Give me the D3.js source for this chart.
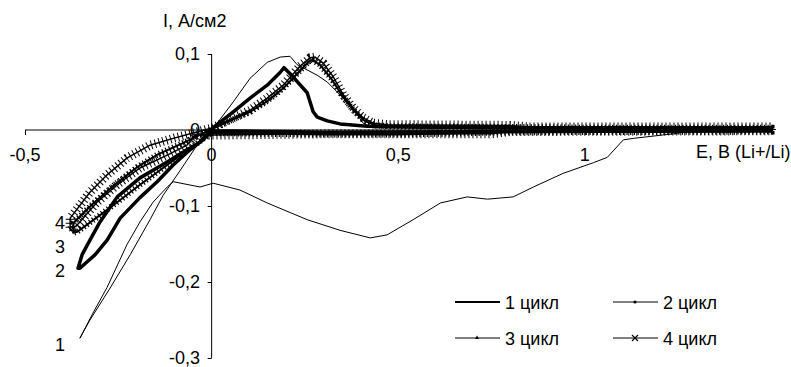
<!DOCTYPE html>
<html><head><meta charset="utf-8">
<script src="https://cdn.jsdelivr.net/npm/d3@7"></script>
<style>body{margin:0;background:#fff}</style>
</head><body><svg id="c" width="791" height="367"></svg>
<script>
const xTicks = [-0.5, 0, 0.5, 1];
const yTicks = [0.1, 0, -0.1, -0.2, -0.3];
const seriesNames = ["1 цикл", "2 цикл", "3 цикл", "4 цикл"];
const curveLabels = [["1", -0.3, -0.283], ["2", -0.3, -0.186], ["3", -0.3, -0.154], ["4", -0.3, -0.122]];

const cycle1 = [
 [0.001,0],[0.058,0.037],[0.103,0.068],[0.149,0.089],[0.184,0.096],[0.21,0.097],[0.229,0.086],
 [0.283,0.072],[0.31,0.063],[0.371,0.033],[0.406,0.009],[0.43,0.003],[0.6,0.002],[1.0,0.002],[1.5,0.003],
 [1.48,0.002],[1.3,0],[1.237,-0.005],[1.13,-0.011],[1.103,-0.013],[1.06,-0.036],[1.023,-0.043],[0.942,-0.057],
 [0.862,-0.075],[0.808,-0.088],[0.739,-0.091],[0.685,-0.088],[0.613,-0.096],[0.54,-0.118],[0.47,-0.138],
 [0.425,-0.142],[0.344,-0.132],[0.256,-0.118],[0.149,-0.096],[0.076,-0.079],[0.004,-0.07],[-0.031,-0.075],
 [-0.103,-0.068],[-0.119,-0.075],[-0.157,-0.095],[-0.192,-0.121],[-0.227,-0.151],[-0.28,-0.207],
 [-0.318,-0.241],[-0.353,-0.274],[-0.326,-0.25],[-0.272,-0.208],[-0.218,-0.164],[-0.165,-0.118],
 [-0.13,-0.086],[-0.084,-0.053],[-0.039,-0.02],[0.001,0]
];
const cycle2 = [
 [0.004,0.003],[0.058,0.024],[0.103,0.042],[0.149,0.059],[0.184,0.076],[0.194,0.082],[0.218,0.07],
 [0.256,0.049],[0.272,0.024],[0.283,0.017],[0.31,0.012],[0.344,0.008],[0.417,0.005],[0.8,0.003],[1.5,0.003],
 [1.5,-0.001],[0.8,-0.002],[0.3,-0.003],[0,-0.001],
 [-0.023,-0.013],[-0.058,-0.026],[-0.103,-0.046],[-0.146,-0.068],[-0.192,-0.089],[-0.245,-0.116],
 [-0.28,-0.145],[-0.312,-0.164],[-0.353,-0.182],[-0.358,-0.182],[-0.347,-0.164],[-0.326,-0.145],
 [-0.299,-0.121],[-0.253,-0.088],[-0.192,-0.063],[-0.119,-0.042],[-0.066,-0.026],[-0.031,-0.016],[0.004,0.003]
];
const cycle3 = [
 [0.004,0.002],[0.058,0.014],[0.103,0.024],[0.149,0.038],[0.192,0.055],[0.237,0.078],[0.26,0.09],
 [0.27,0.092],[0.29,0.086],[0.32,0.068],[0.35,0.045],[0.38,0.026],[0.41,0.012],[0.44,0.006],[0.48,0.005],
 [0.8,0.004],[1.0,0.003],[1.5,0.003],[1.5,-0.002],[0.8,-0.003],[0.5,-0.006],[0.3,-0.006],[0,-0.004],
 [-0.058,-0.024],[-0.119,-0.046],[-0.192,-0.072],[-0.245,-0.092],[-0.299,-0.112],[-0.36,-0.134],[-0.37,-0.135],
 [-0.37,-0.122],[-0.316,-0.096],[-0.26,-0.072],[-0.2,-0.049],[-0.144,-0.032],[-0.08,-0.018],[-0.03,-0.006],[0.004,0.002]
];
const cycle4 = [
 [0.004,0.003],[0.058,0.016],[0.103,0.026],[0.149,0.042],[0.192,0.059],[0.237,0.084],[0.264,0.095],
 [0.277,0.096],[0.299,0.088],[0.326,0.07],[0.353,0.046],[0.379,0.029],[0.406,0.016],[0.433,0.009],
 [0.47,0.007],[0.8,0.006],[0.85,0.004],[1.5,0.004],[1.5,-0.001],[0.8,-0.002],[0.75,-0.005],[0.3,-0.005],[-0.044,-0.007],
 [-0.066,-0.02],[-0.119,-0.033],[-0.192,-0.05],[-0.253,-0.072],[-0.307,-0.095],[-0.36,-0.125],[-0.379,-0.132],
 [-0.379,-0.116],[-0.326,-0.082],[-0.28,-0.059],[-0.227,-0.037],[-0.165,-0.02],[-0.103,-0.011],[-0.05,-0.004],[0.004,0.003]
];

const svg = d3.select("#c");
const x = d3.scaleLinear().domain([-0.5, 1.5]).range([25, 771.5]);
const y = d3.scaleLinear().domain([-0.3, 0.1]).range([358, 54]);
const fmt = d => d === 0 ? "0" : String(d).replace(".", ",");
const txt = sel => sel.style("font-family", "'Liberation Sans', Arial, sans-serif").style("font-size", "18px").attr("fill", "#000");

const xa = svg.append("g").attr("transform", `translate(0,${y(0)})`)
  .call(d3.axisBottom(x).tickValues([-0.5,0,0.5,1,1.5]).tickSize(5).tickFormat(""));
xa.select(".domain").attr("stroke","#000").attr("d", `M${x(-0.5)},0H${x(1.5)}`);
xa.selectAll(".tick line").attr("stroke","#000");
const ya = svg.append("g").attr("transform", `translate(${x(0)},0)`)
  .call(d3.axisLeft(y).tickValues(yTicks).tickSize(4).tickFormat(""));
ya.select(".domain").attr("stroke","#000").attr("d", `M0,${y(0.1)}V${y(-0.3)}`);
ya.selectAll(".tick line").attr("stroke","#000");

svg.append("g").selectAll("text").data(xTicks).join("text").call(txt)
  .attr("x", d => x(d)).attr("y", 161).attr("text-anchor","middle").text(fmt);
svg.append("g").selectAll("text").data(yTicks).join("text").call(txt)
  .attr("x", 200).attr("y", d => y(d) + 6).attr("text-anchor","end").text(fmt);

svg.append("text").call(txt).attr("x", 163).attr("y", 27).text("I, А/см2");
svg.append("text").call(txt).attr("x", 696).attr("y", 158).text("E, В (Li+/Li)");

const line = d3.line().x(d => x(d[0])).y(d => y(d[1]));
const g = svg.append("g");
g.append("path").attr("d", line(cycle4)).attr("fill","none").attr("stroke","#000").attr("stroke-width",1.5);
g.append("path").attr("d", line(cycle4)).attr("fill","none").attr("stroke","#000").attr("stroke-width",9).attr("stroke-dasharray","1 3");
g.append("path").attr("d", line(cycle3)).attr("fill","none").attr("stroke","#000").attr("stroke-width",2);
g.append("path").attr("d", line(cycle3)).attr("fill","none").attr("stroke","#000").attr("stroke-width",6).attr("stroke-dasharray","1.2 2.5");
g.append("path").attr("d", line(cycle2)).attr("fill","none").attr("stroke","#000").attr("stroke-width",3.5).attr("stroke-linejoin","round");
g.append("path").attr("d", line(cycle1)).attr("fill","none").attr("stroke","#000").attr("stroke-width",1);

svg.append("g").selectAll("text").data(curveLabels).join("text").call(txt)
  .attr("x", 60).attr("y", d => y(d[2]) + 6).attr("text-anchor","middle").text(d => d[0]);

const leg = [[455,303],[613,303],[455,339],[613,339]];
const lg = svg.append("g");
seriesNames.forEach((n,i) => {
  const [lx, ly] = leg[i];
  lg.append("line").attr("x1",lx).attr("x2",lx+45).attr("y1",ly-1).attr("y2",ly-1)
    .attr("stroke","#000").attr("stroke-width", i===0 ? 2 : 1);
  const cx = lx + 22, cy = ly - 1;
  if (i===1) lg.append("circle").attr("cx",cx).attr("cy",cy).attr("r",1.6).attr("fill","#000");
  if (i===2) lg.append("path").attr("d",`M${cx-2},${cy+1}L${cx},${cy-2.5}L${cx+2},${cy+1}Z`).attr("fill","#000");
  if (i===3) lg.append("path").attr("d",`M${cx-3},${cy-3}L${cx+3},${cy+3}M${cx-3},${cy+3}L${cx+3},${cy-3}`).attr("stroke","#000").attr("stroke-width",1.2);
  lg.append("text").call(txt).attr("x", lx+50).attr("y", ly+6).text(n);
});
</script></body></html>
